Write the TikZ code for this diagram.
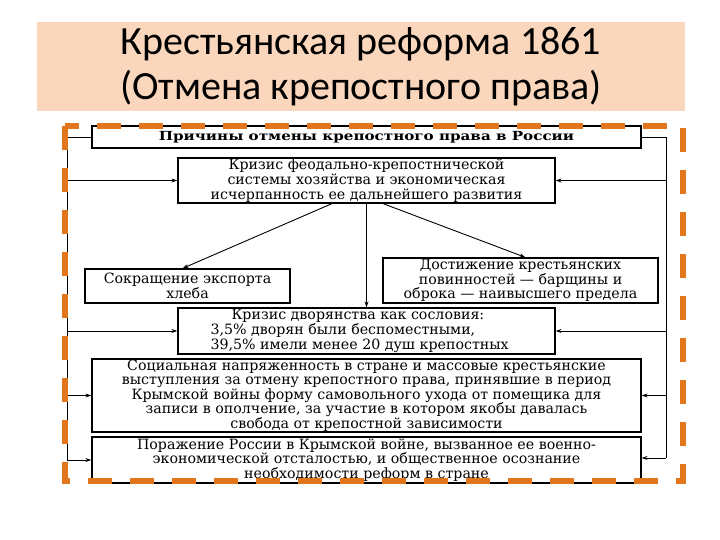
\documentclass[tikz,border=0pt]{standalone}
\usepackage{fontspec}
\setmainfont{DejaVu Serif}
\newfontfamily\titlefont{Carlito}
\usetikzlibrary{arrows.meta}
\definecolor{peach}{RGB}{250,215,188}
\definecolor{borderorange}{RGB}{226,118,28}
\tikzset{
  box/.style={draw=black, line width=1.2pt, fill=white, inner sep=0pt, align=center,
    font=\fontsize{14.2}{14.6}\selectfont},
  conn/.style={draw=black, line width=0.9pt},
  arr/.style={conn, -{Stealth[length=6pt,width=4pt]}},
}
\begin{document}
\begin{tikzpicture}[x=1pt, y=-1pt]
\useasboundingbox (0,0) rectangle (720,540);
\fill[white] (0,0) rectangle (720,540);
% title banner
\fill[peach] (37,22) rectangle (685,111);
\node[font=\titlefont\fontsize{40}{45}\selectfont, align=center, inner sep=0pt] (title) at (361,67)
  {Крестьянская реформа 1861\\(Отмена крепостного права)};

% boxes
\node[box, minimum width=549pt, minimum height=22pt] (T) at (366.5,137)
  {\scalebox{1.21}[1]{\bfseries\fontsize{12.5}{13}\selectfont Причины отмены крепостного права в России}};
\node[box, minimum width=377pt, minimum height=45pt] (K1) at (366.5,180.5)
  {Кризис феодально-крепостнической\\системы хозяйства и экономическая\\исчерпанность ее дальнейшего развития};
\node[box, minimum width=205pt, minimum height=34pt] (S) at (187.5,286)
  {Сокращение экспорта\\хлеба};
\node[box, minimum width=275pt, minimum height=45pt] (D) at (520.5,280.5)
  {Достижение крестьянских\\повинностей — барщины и\\оброка — наивысшего предела};
\node[box, minimum width=377pt, minimum height=46pt] (K2) at (366.5,331)
  {\parbox{312pt}{\raggedright\fontsize{14.2}{14.6}\selectfont
   \hspace*{21pt}Кризис дворянства как сословия:\\
   3,5\% дворян были беспоместными,\\
   39,5\% имели менее 20 душ крепостных}};
\node[box, minimum width=549pt, minimum height=73pt] (Soc) at (366.5,395.5)
  {Социальная напряженность в стране и массовые крестьянские\\выступления за отмену крепостного права, принявшие в период\\Крымской войны форму самовольного ухода от помещика для\\записи в ополчение, за участие в котором якобы давалась\\свобода от крепостной зависимости};
\node[box, minimum width=549pt, minimum height=46pt] (Por) at (366.5,460)
  {Поражение России в Крымской войне, вызванное ее военно-\\экономической отсталостью, и общественное осознание\\необходимости реформ в стране};

% buses
\coordinate (Lbot) at (67,460);
\coordinate (Rbot) at (666,458);
\draw[conn] (T.west) -| (Lbot);
\draw[conn] (T.east) -| (Rbot);
\draw[arr] (K1.west -| Lbot) -- (K1.west);
\draw[arr] (K2.west -| Lbot) -- (K2.west);
\draw[arr] (Soc.west -| Lbot) -- (Soc.west);
\draw[arr] (Lbot) -- (Lbot -| Por.west);
\draw[arr] (K1.east -| Rbot) -- (K1.east);
\draw[arr] (K2.east -| Rbot) -- (K2.east);
\draw[arr] (Soc.east -| Rbot) -- (Soc.east);
\draw[arr] (Rbot) -- (Rbot -| Por.east);

% branches
\draw[arr] ([xshift=-34.5pt]K1.south) -- ([xshift=-5pt]S.north);
\draw[arr] (K1.south) -- (K2.north);
\draw[arr] ([xshift=16.5pt]K1.south) -- ([xshift=5pt]D.north);

% orange dashed frame
\draw[borderorange, line width=5.5pt, dash pattern=on 24pt off 18pt] (65,126) rectangle (683,481);
\end{tikzpicture}
\end{document}
